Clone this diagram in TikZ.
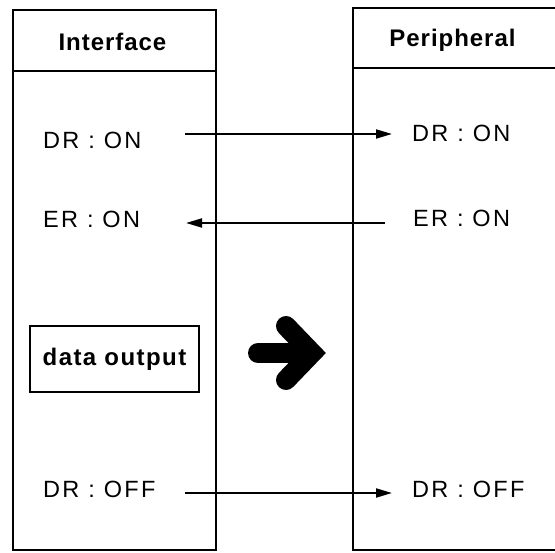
\documentclass[tikz,border=0pt]{standalone}
\usepackage{fontspec}
\setmainfont{Liberation Sans}
\newfontfamily\lblfont[LetterSpace=10]{Liberation Sans}
\newfontfamily\hdrfont[LetterSpace=4]{Liberation Sans}
\newfontfamily\datafont[LetterSpace=6]{Liberation Sans}
\usetikzlibrary{arrows.meta}
\begin{document}
\begin{tikzpicture}[x=1pt,y=-1pt,
  boxline/.style={line width=2.2pt},
  lbl/.style={inner sep=0pt,anchor=base west,font=\lblfont\fontsize{23.5}{24}\selectfont},
  hdr/.style={inner sep=0pt,anchor=base,font=\hdrfont\bfseries\fontsize{24}{26}\selectfont},
  sig/.style={line width=2pt,-{Triangle[length=16pt,width=9pt]}},
  big/.style={line width=20pt}
]
\useasboundingbox (0,0) rectangle (555,553);
\clip (0,0) rectangle (555,553);
% boxes
\draw[boxline] (13,10) rectangle (216,550);
\draw[boxline] (13,71) -- (216,71);
\draw[boxline] (353,8) rectangle (600,550);
\draw[boxline] (353,68) -- (600,68);
% headers
\node[hdr] (lh) at (112.5,51) {Interface};
\node[hdr] (rh) at (452.5,47) {Peripheral};
% labels
\node[lbl] (ldr) at (43,149) {DR : ON};
\node[lbl] (rdr) at (412,142) {DR : ON};
\node[lbl] (ler) at (43,228) {ER : ON};
\node[lbl] (rer) at (413,227) {ER : ON};
\node[lbl] (ldo) at (43,498) {DR : OFF};
\node[lbl] (rdo) at (412,498) {DR : OFF};
% data output box
\node[draw,line width=2pt,minimum width=169pt,minimum height=66pt,inner sep=0pt,
      font=\datafont\bfseries\fontsize{24}{26}\selectfont] (dout) at (114.5,359) {data output};
% signal arrows
\draw[sig] ([xshift=142pt,yshift=15pt]ldr.base west) -- ([xshift=-20pt,yshift=8pt]rdr.base west);
\draw[sig] ([xshift=-28pt,yshift=4pt]rer.base west) -- ([xshift=143pt,yshift=5pt]ler.base west);
\draw[sig] ([xshift=142pt,yshift=5pt]ldo.base west) -- ([xshift=-20pt,yshift=5pt]rdo.base west);
% big arrow
\coordinate (bs) at (258,353);
\coordinate (bt) at (312,353);
\draw[big,line cap=round] (bs) -- (305,353);
\draw[big,line cap=round,line join=miter] (286,326) -- (bt) -- (286,380);
\end{tikzpicture}
\end{document}
